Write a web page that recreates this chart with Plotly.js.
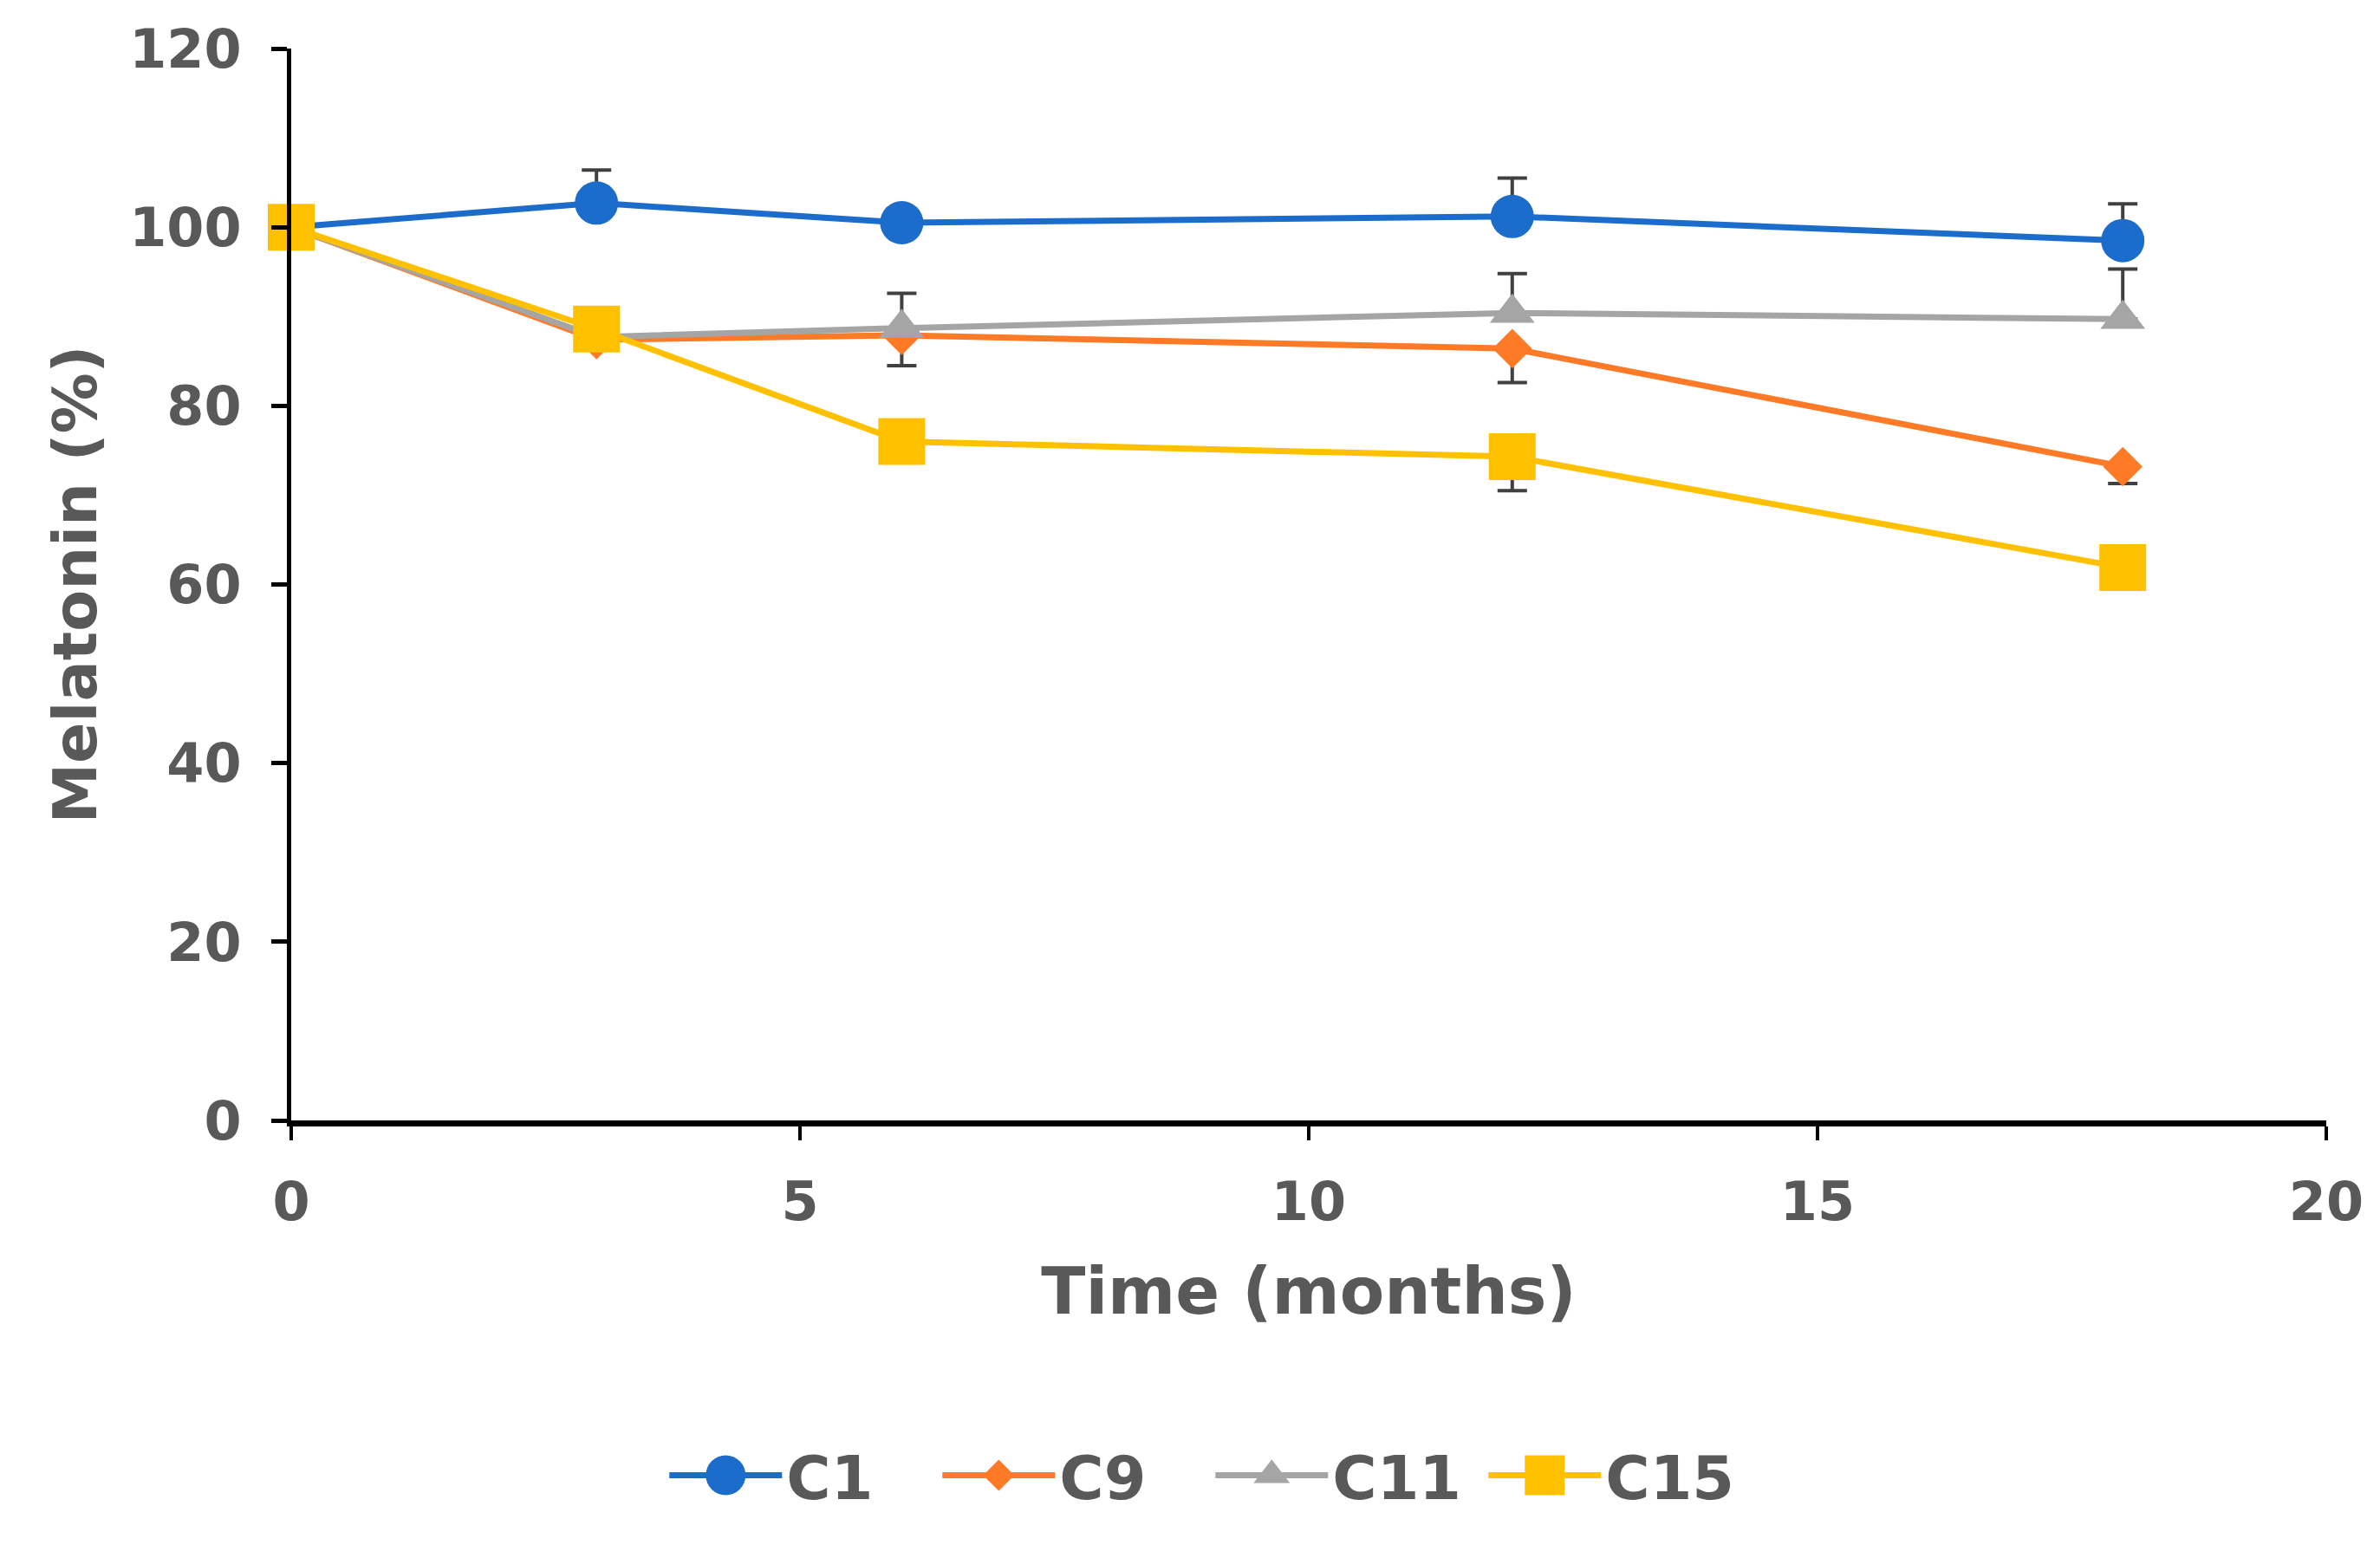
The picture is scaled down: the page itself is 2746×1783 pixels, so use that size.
<!DOCTYPE html>
<html>
<head>
<meta charset="utf-8">
<script src="https://cdn.plot.ly/plotly-3.0.1.min.js"></script>
<style>
  html, body { margin: 0; padding: 0; background: #ffffff; }
  #chart { width: 2746px; height: 1783px; }
</style>
</head>
<body>
<div id="chart"></div>
<script>
// ---- data ----
const months = [0, 3, 6, 12, 18];

const seriesNames = ["C1", "C9", "C11", "C15"];

const c1  = [100, 102.7, 100.5, 101.2, 98.5];
const c9  = [100, 87.4, 87.9, 86.4, 73.2];
const c11 = [100, 87.7, 88.7, 90.4, 89.7];
const c15 = [100, 88.6, 76.0, 74.3, 61.9];

// error bars (C1, C11 drawn upward; C9, C15 drawn downward)
const c1ErrPlus   = [0, 3.7, 0.5, 4.3, 4.1];
const c11ErrPlus  = [0, 0.8, 3.9, 4.4, 5.6];
const c9ErrMinus  = [0, 0.8, 3.4, 3.8, 1.9];
const c15ErrMinus = [0, 0.8, 0.8, 3.8, 0.8];

const xTickVals = [0, 5, 10, 15, 20];
const yTickVals = [0, 20, 40, 60, 80, 100, 120];

// ---- styling ----
const colors = ["#1C6DCB", "#FF7A26", "#A5A5A5", "#FFC000"];
const symbols = ["circle", "diamond", "triangle-up", "square"];
const sizes = [50, 35, 45, 54];
const textGray = "#595959";
const errColor = "#404040";
const fontFam = "DejaVu Sans, Liberation Sans, Arial, sans-serif";

function zeros(n) { return new Array(n).fill(0); }

function mkTrace(i, y, plus, minus) {
  return {
    type: "scatter",
    mode: "lines+markers",
    name: seriesNames[i],
    x: months,
    y: y,
    cliponaxis: false,
    line: { color: colors[i], width: 7 },
    marker: { symbol: symbols[i], size: sizes[i], color: colors[i], line: { width: 0 } },
    error_y: {
      type: "data",
      symmetric: false,
      array: plus,
      arrayminus: minus,
      color: errColor,
      thickness: 4,
      width: 17,
      visible: true
    }
  };
}

const traces = [
  mkTrace(0, c1, c1ErrPlus, zeros(months.length)),
  mkTrace(1, c9, zeros(months.length), c9ErrMinus),
  mkTrace(2, c11, c11ErrPlus, zeros(months.length)),
  mkTrace(3, c15, zeros(months.length), c15ErrMinus)
];

const layout = {
  width: 2746,
  height: 1783,
  paper_bgcolor: "#ffffff",
  plot_bgcolor: "#ffffff",
  margin: { l: 336, r: 62, t: 56, b: 490 },
  font: { family: fontFam, color: textGray, size: 62, weight: 700 },
  showlegend: true,
  xaxis: {
    range: [0, 20],
    tickvals: xTickVals,
    ticktext: xTickVals.map(String),
    showgrid: false,
    zeroline: false,
    showline: true,
    linecolor: "#000000",
    linewidth: 7,
    ticks: "outside",
    ticklen: 16,
    tickwidth: 4,
    tickcolor: "#000000",
    ticklabelstandoff: 18,
    tickfont: { family: fontFam, size: 62, color: textGray, weight: 700 },
    title: {
      text: "Time (months)",
      font: { family: fontFam, size: 75, color: textGray, weight: 700 },
      standoff: 44
    },
    fixedrange: true
  },
  yaxis: {
    range: [0, 120],
    tickvals: yTickVals,
    ticktext: yTickVals.map(String),
    showgrid: false,
    zeroline: false,
    showline: true,
    linecolor: "#000000",
    linewidth: 5,
    ticks: "outside",
    ticklen: 18,
    tickwidth: 5,
    tickcolor: "#000000",
    ticklabelstandoff: 22,
    tickfont: { family: fontFam, size: 62, color: textGray, weight: 700 },
    title: {
      text: "Melatonin (%)",
      font: { family: fontFam, size: 70, color: textGray, weight: 700 },
      standoff: 16
    },
    fixedrange: true
  },
  legend: {
    orientation: "h",
    x: 0.452,
    xanchor: "center",
    y: -0.331,
    yanchor: "middle",
    itemwidth: 130,
    entrywidth: 170,
    entrywidthmode: "pixels",
    font: { family: fontFam, size: 70, color: textGray, weight: 700 },
    bgcolor: "rgba(0,0,0,0)"
  }
};

Plotly.newPlot("chart", traces, layout, { staticPlot: true, displayModeBar: false }).then(function (gd) {
  // enlarge the legend symbols to match the reference (long line, big marker)
  const targetW = [46, 36, 42, 46];
  gd.querySelectorAll(".legend .traces").forEach(function (tr, i) {
    tr.querySelectorAll("path.js-line").forEach(function (ln) {
      ln.setAttribute("d", "M5,0h130");
    });
    tr.querySelectorAll("path.scatterpts").forEach(function (pt) {
      const bb = pt.getBBox();
      if (bb.width > 0) {
        const k = targetW[i] / bb.width;
        pt.setAttribute("transform", "translate(70,0) scale(" + k + ")");
      }
    });
  });
});
</script>
</body>
</html>
